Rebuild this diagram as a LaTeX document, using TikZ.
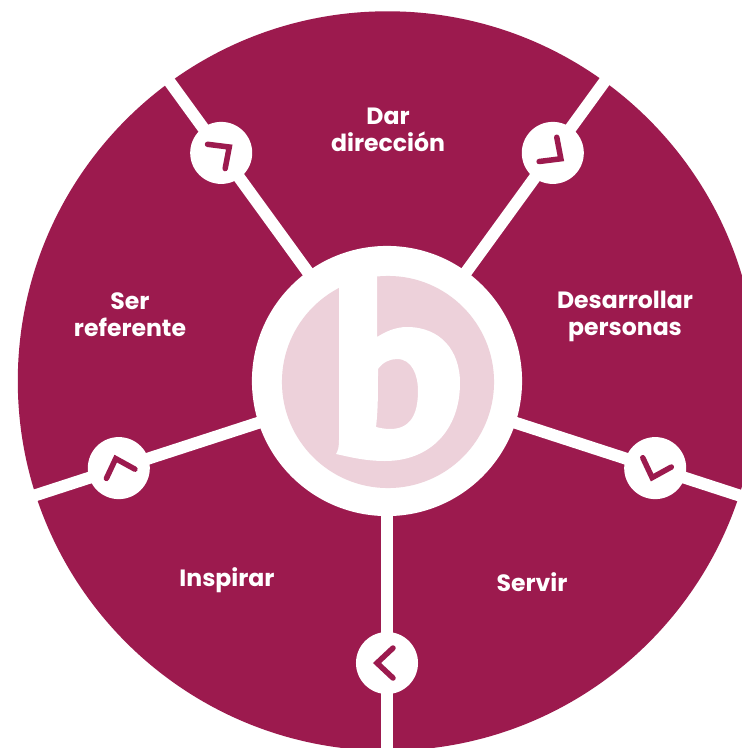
\documentclass[tikz,border=0pt]{standalone}
\usepackage{fontspec}
\setmainfont{Poppins}
\definecolor{wheelred}{HTML}{9C1A4E}
\definecolor{logopink}{HTML}{EDD1DA}
\tikzset{
    wheel/.style={circle,fill=wheelred,inner sep=0pt,minimum size=7.39cm},
    hub/.style={circle,fill=white,inner sep=0pt,minimum size=2.7cm},
    logodisc/.style={circle,fill=logopink,inner sep=0pt,minimum size=2.12cm},
    bubble/.style={circle,fill=white,inner sep=0pt,minimum size=0.62cm},
    spoke/.style={white,line width=0.12cm},
    chevron/.style={wheelred,line width=0.055cm,line cap=round,miter limit=10},
    wheeltext/.style={white,font=\bfseries\fontsize{6.7pt}{7.7pt}\selectfont,align=center,inner sep=0pt}
}
\begin{document}
\begin{tikzpicture}[x=0.01cm,y=0.01cm]
    \useasboundingbox (0,0) rectangle (742,-748);
    \clip (0,0) rectangle (742,-748);
    \fill [white] (0,0) rectangle (742,-748);
    \node [wheel] (wheelbody) at (387.5,-381) {};
    % spokes
    \coordinate (endtl) at (160.7,-69.5);
    \coordinate (endtr) at (613.3,-69.5);
    \coordinate (endr) at (753.2,-500);
    \coordinate (endb) at (387,-766);
    \coordinate (endl) at (20.8,-500);
    \coordinate (hubc) at (387,-381);
    \draw [spoke] (hubc) -- (endtl);
    \draw [spoke] (hubc) -- (endtr);
    \draw [spoke] (hubc) -- (endr);
    \draw [spoke] (hubc) -- (endb);
    \draw [spoke] (hubc) -- (endl);
    \node [bubble] (bubtl) at (221.2,-152.9) {};
    \node [bubble] (bubtr) at (552.8,-152.9) {};
    \node [bubble] (bubr) at (655.2,-468.1) {};
    \node [bubble] (bubb) at (387,-663) {};
    \node [bubble] (bubl) at (118.8,-468.1) {};
    \node [hub] (hubdisc) at (hubc) {};
    % chevrons
    \draw [chevron,shift={(bubb)},rotate=0] (6,15) -- (-10,0) -- (6,-15);
    \draw [chevron,shift={(bubr)},rotate=72] (6,15) -- (-10,0) -- (6,-15);
    \draw [chevron,shift={(bubtr)},rotate=144] (6,15) -- (-10,0) -- (6,-15);
    \draw [chevron,shift={(bubtl)},rotate=216] (6,15) -- (-10,0) -- (6,-15);
    \draw [chevron,shift={(bubl)},rotate=288] (6,15) -- (-10,0) -- (6,-15);
    % logo
    \node [logodisc] (logo) at (388,-382) {};
    \fill [white,even odd rule] (339,-270) -- (339,-440) .. controls (339,-447) and (338,-451) .. (336,-454)
        .. controls (350,-457) and (365,-461) .. (385,-461) .. controls (430,-461) and (460,-430) .. (460,-383)
        .. controls (460,-350) and (440,-327) .. (407,-327) .. controls (395,-327) and (385,-332) .. (377,-337)
        -- (377,-270) -- cycle
        (378,-369) .. controls (383,-362) and (390,-359) .. (397,-359) .. controls (412,-359) and (418,-375) .. (418,-391)
        .. controls (418,-415) and (410,-429) .. (390,-429) .. controls (385,-429) and (380,-428) .. (376,-427)
        .. controls (378,-410) and (378,-395) .. (378,-369) -- cycle;
    % labels
    \node [wheeltext] (dar) at (388,-130) {Dar\\dirección};
    \node [wheeltext] (desarrollar) at (625,-316) {Desarrollar\\personas};
    \node [wheeltext] (servir) at (532,-582.5) {Servir};
    \node [wheeltext] (inspirar) at (227,-580.5) {Inspirar};
    \node [wheeltext] (ser) at (130,-315) {Ser\\referente};
\end{tikzpicture}
\end{document}
